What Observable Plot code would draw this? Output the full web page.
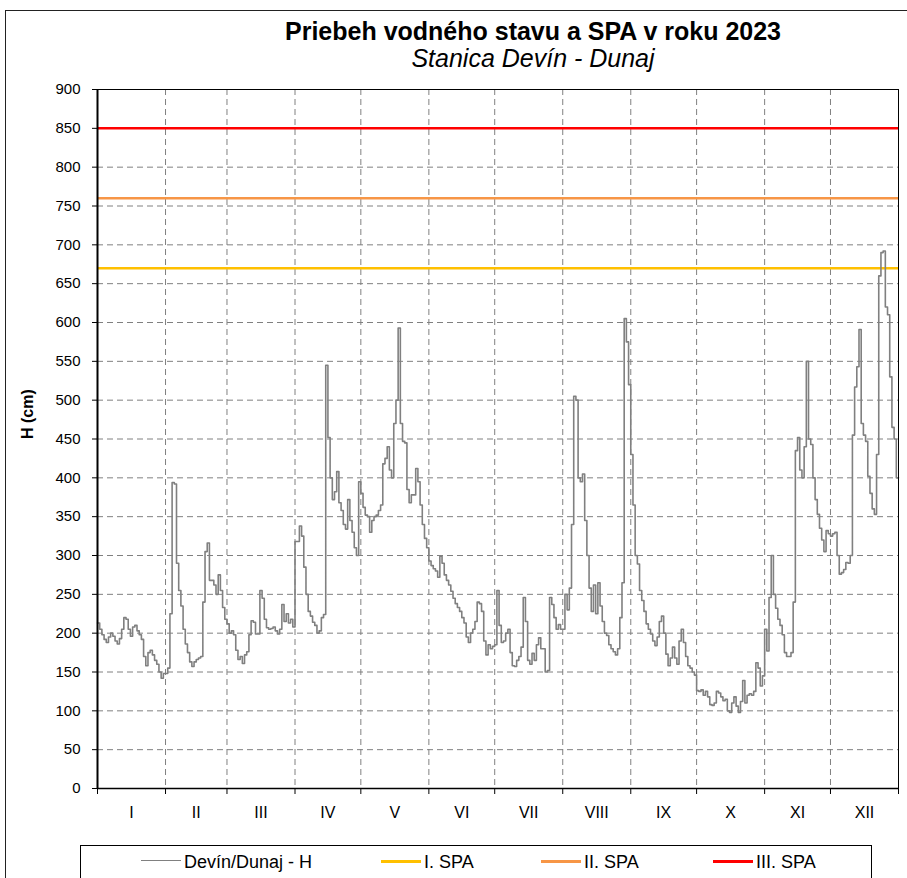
<!DOCTYPE html>
<html>
<head>
<meta charset="utf-8">
<script src="https://cdn.jsdelivr.net/npm/d3@7"></script>
<script src="https://cdn.jsdelivr.net/npm/@observablehq/plot@0.6"></script>
<style>
  body { margin: 0; background: #fff; font-family: "Liberation Sans", Arial, sans-serif; }
  #wrap { position: relative; width: 907px; height: 878px; overflow: hidden; background: #fff; }
  #outer { position: absolute; left: 5px; top: 10px; width: 1000px; height: 1000px; border-left: 1.5px solid #222; border-top: 1.5px solid #222; }
  .ttl { position: absolute; left: 233px; width: 600px; text-align: center; color: #000; white-space: nowrap; }
  #title { top: 17px; font-size: 25px; line-height: 28px; font-weight: bold; }
  #subtitle { top: 44px; font-size: 25px; line-height: 28px; font-style: italic; }
  #chart { position: absolute; left: 0; top: 70px; }
  #legend { position: absolute; left: 80px; top: 845px; width: 790px; height: 60px; border: 1.5px solid #000; background: #fff; }
  .lg-line { position: absolute; top: 15px; width: 40px; }
  .lg-text { position: absolute; top: 5px; font-size: 18px; line-height: 22px; color: #000; white-space: nowrap; }
</style>
</head>
<body>
<div id="wrap">
  <div id="outer"></div>
  <div id="title" class="ttl"></div>
  <div id="subtitle" class="ttl"></div>
  <div id="chart"></div>
  <div id="legend"></div>
</div>
<script>
// ---- texts ----
const titleText = "Priebeh vodného stavu a SPA v roku 2023";
const subtitleText = "Stanica Devín - Dunaj";
const yLabel = "H (cm)";
const seriesName = "Devín/Dunaj - H";

// ---- months ----
const months = ["I","II","III","IV","V","VI","VII","VIII","IX","X","XI","XII"];
const monthLengths = [31,28,31,30,31,30,31,31,30,31,30,31];

// ---- daily water level H (cm) ----
const hI    = [213,205,198,192,188,195,200,196,190,186,193,205,220,218,205,196,208,210,203,198,192,170,158,175,178,172,165,160,150,142,148];
const hII   = [148,155,225,394,392,290,255,235,205,186,175,163,157,163,166,168,170,240,305,316,268,268,262,250,275,255,233,218];
const hIII  = [212,200,203,198,178,166,170,161,172,176,198,216,214,199,199,255,245,218,207,205,206,208,203,199,205,237,215,225,213,218,208];
const hIV   = [318,318,338,325,285,250,228,222,214,210,200,203,220,224,545,452,400,372,382,408,368,358,340,334,372,345,330,310,300,395];
const hV    = [380,362,352,350,330,345,350,352,358,365,418,425,440,410,400,470,500,593,470,447,445,385,368,378,378,412,395,365,340,322,310];
const hVI   = [293,287,283,280,272,299,290,275,268,262,254,245,238,233,228,220,213,195,188,200,205,215,240,238,228,190,172,185,180,183];
const hVII  = [185,255,210,188,190,200,205,175,158,157,165,170,182,246,215,165,160,174,165,185,194,180,180,150,152,246,237,220,205,211,205];
const hVIII = [205,250,230,258,340,505,500,400,395,405,345,300,258,228,262,225,265,235,215,200,197,185,180,176,172,180,220,265,605,575,520];
const hIX   = [430,365,300,289,255,242,228,212,205,199,190,184,195,215,222,200,173,158,168,182,168,160,190,205,188,170,158,155,150,146];
const hX    = [126,125,127,120,125,118,108,107,110,125,123,118,113,115,100,98,110,118,106,98,112,139,110,120,122,120,125,162,155,132,145];
const hXI   = [205,177,246,300,250,232,218,210,198,175,170,170,175,240,435,452,410,400,440,550,450,443,400,372,353,335,320,305,332,328];
const hXII  = [325,328,330,300,276,278,282,291,290,300,455,517,543,591,470,455,447,402,380,360,353,430,660,690,692,620,610,530,465,450,400];

// ---- SPA levels ----
const spaNames  = ["I. SPA","II. SPA","III. SPA"];
const spaLevels = [670, 760, 850];
const spaColors = ["#FFC000","#F79646","#FF0000"];

// ---- y ticks ----
const yTicks = d3.range(0, 901, 50);

// ---- build ----
const hMonths = [hI,hII,hIII,hIV,hV,hVI,hVII,hVIII,hIX,hX,hXI,hXII];
const H = hMonths.flat();
const data = H.map((h, i) => ({day: i, h}));
data.push({day: H.length, h: H[H.length - 1]});
const starts = Array.from(d3.cumsum([0, ...monthLengths]));
const mids = months.map((m, i) => (starts[i] + starts[i + 1]) / 2);
const lineColor = "#808080";

document.getElementById("title").textContent = titleText;
document.getElementById("subtitle").textContent = subtitleText;

const chart = Plot.plot({
  width: 907,
  height: 758,
  marginTop: 19,
  marginBottom: 40,
  marginLeft: 97,
  marginRight: 9,
  style: {fontFamily: "'Liberation Sans', Arial, sans-serif", fontSize: "15px", color: "#000", background: "transparent", overflow: "visible"},
  x: {domain: [0, starts[starts.length - 1]]},
  y: {domain: [0, 900]},
  marks: [
    Plot.ruleY(yTicks.filter(v => v > 0 && v < 900), {stroke: "#808080", strokeDasharray: "6,4", strokeWidth: 1}),
    Plot.ruleX(starts.slice(1, -1), {stroke: "#808080", strokeDasharray: "6,4", strokeWidth: 1}),
    ...spaLevels.map((v, i) => Plot.ruleY([v], {stroke: spaColors[i], strokeWidth: 2.5})),
    Plot.line(data, {x: "day", y: "h", stroke: lineColor, strokeWidth: 1.6, curve: "step-after"}),
    Plot.frame({stroke: "#000", strokeWidth: 1}),
    Plot.ruleX([0], {stroke: "#000", strokeWidth: 2}),
    Plot.ruleY([0], {stroke: "#000", strokeWidth: 1.5}),
    Plot.axisY(yTicks, {tickSize: 5, tickPadding: 12, tickFormat: d => String(d), label: null, fontSize: 15, stroke: "#000"}),
    Plot.axisX(starts, {tickSize: 6, tickFormat: () => "", label: null, stroke: "#000"}),
    Plot.axisX(mids, {tickSize: 0, tickPadding: 18, tickFormat: d => months[mids.indexOf(d)], label: null, fontSize: 16}),
    Plot.text([yLabel], {frameAnchor: "left", dx: -70, rotate: -90, fontWeight: "bold", fontSize: 16, fill: "#000"})
  ]
});
document.getElementById("chart").appendChild(chart);

// ---- legend ----
const legend = document.getElementById("legend");
const legendItems = [
  {name: seriesName, color: lineColor, width: 1.5, left: 60},
  ...spaNames.map((n, i) => ({name: n, color: spaColors[i], width: 3, left: [300, 460, 632][i]}))
];
legendItems.forEach(it => {
  const ln = document.createElement("div");
  ln.className = "lg-line";
  ln.style.left = it.left + "px";
  ln.style.borderTop = it.width + "px solid " + it.color;
  ln.style.marginTop = (-it.width / 2) + "px";
  legend.appendChild(ln);
  const tx = document.createElement("div");
  tx.className = "lg-text";
  tx.style.left = (it.left + 43) + "px";
  tx.textContent = it.name;
  legend.appendChild(tx);
});
</script>
</body>
</html>
